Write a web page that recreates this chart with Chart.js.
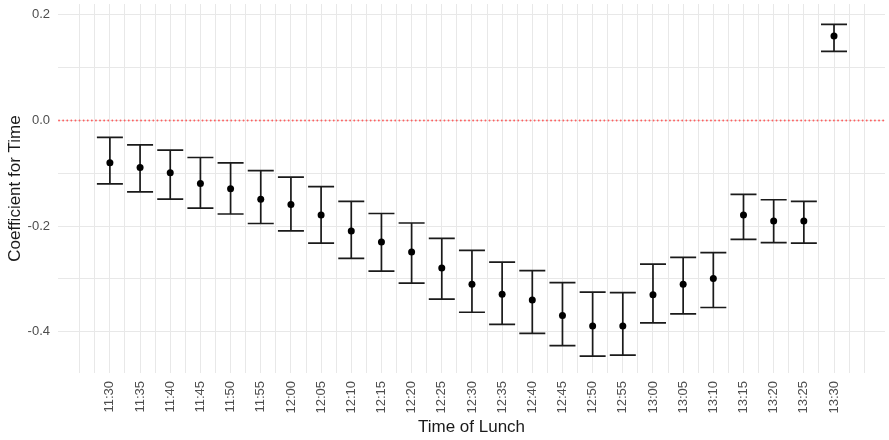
<!DOCTYPE html>
<html>
<head>
<meta charset="utf-8">
<script src="https://cdn.jsdelivr.net/npm/chart.js@4.4.0/dist/chart.umd.min.js"></script>
<style>
  body { margin: 0; background: #fff; }
  #wrap { width: 889px; height: 440px; }
</style>
</head>
<body>
<div id="wrap"><canvas id="c"></canvas></div>
<script>
// horarios do almoco
const times = ['11:30', '11:35', '11:40', '11:45', '11:50', '11:55', '12:00', '12:05', '12:10',
  '12:15', '12:20', '12:25', '12:30', '12:35', '12:40', '12:45', '12:50', '12:55',
  '13:00', '13:05', '13:10', '13:15', '13:20', '13:25', '13:30'];
const estimate = [-0.080, -0.089, -0.099, -0.119, -0.129, -0.149, -0.159, -0.179, -0.209,
  -0.230, -0.249, -0.279, -0.310, -0.329, -0.340, -0.369, -0.389, -0.389,
  -0.330, -0.310, -0.299, -0.179, -0.190, -0.190, 0.160];
const upper = [-0.032, -0.046, -0.056, -0.070, -0.080, -0.095, -0.107, -0.125, -0.153,
  -0.176, -0.194, -0.223, -0.246, -0.268, -0.284, -0.307, -0.325, -0.326,
  -0.272, -0.259, -0.250, -0.140, -0.150, -0.153, 0.182];
const lower = [-0.120, -0.135, -0.149, -0.166, -0.177, -0.195, -0.209, -0.232, -0.261,
  -0.285, -0.308, -0.338, -0.363, -0.386, -0.403, -0.426, -0.446, -0.444,
  -0.383, -0.366, -0.354, -0.225, -0.231, -0.232, 0.131];
const yTicks = [-0.4, -0.3, -0.2, -0.1, 0.0, 0.1, 0.2];
const refLine = 0;

const FONT = "'Liberation Sans', Arial, sans-serif";

// barras de erro e linha de referencia
const errorBars = {
  id: 'errorBars',
  beforeDatasetsDraw(chart) {
    const ctx = chart.ctx;
    const x = chart.scales.x, y = chart.scales.y;
    const area = chart.chartArea;
    ctx.save();
    ctx.strokeStyle = 'rgba(255,80,80,0.9)';
    ctx.lineWidth = 1.8;
    ctx.lineCap = 'round';
    ctx.setLineDash([0.1, 4]);
    const y0 = y.getPixelForValue(refLine);
    ctx.beginPath();
    ctx.moveTo(area.left + 1, y0);
    ctx.lineTo(area.right, y0);
    ctx.stroke();
    ctx.setLineDash([]);
    ctx.lineCap = 'butt';

    ctx.strokeStyle = '#1a1a1a';
    ctx.lineWidth = 1.7;
    const cap = 13;
    for (let i = 0; i < times.length; i++) {
      const px = x.getPixelForValue(i);
      const top = y.getPixelForValue(upper[i]);
      const bot = y.getPixelForValue(lower[i]);
      ctx.beginPath();
      ctx.moveTo(px, top); ctx.lineTo(px, bot);
      ctx.moveTo(px - cap, top); ctx.lineTo(px + cap, top);
      ctx.moveTo(px - cap, bot); ctx.lineTo(px + cap, bot);
      ctx.stroke();
    }
    ctx.restore();
  }
};

// sem folga extra para os rotulos nas bordas
function semFolga(scale) {
  scale.paddingTop = 0;
  scale.paddingBottom = 0;
  scale.paddingLeft = 0;
  scale.paddingRight = 0;
}

const pontos = times.map((t, i) => ({x: i, y: estimate[i]}));

new Chart(document.getElementById('c'), {
  type: 'scatter',
  data: {
    datasets: [{
      label: 'Coefficient',
      data: pontos,
      pointRadius: 3.5,
      pointBackgroundColor: '#000',
      pointBorderWidth: 0
    }]
  },
  options: {
    animation: false,
    responsive: true,
    maintainAspectRatio: false,
    layout: { padding: { top: 0, right: 2, left: 0, bottom: 0 } },
    plugins: {
      legend: { display: false },
      tooltip: { enabled: false }
    },
    scales: {
      x: {
        type: 'linear',
        min: -1.72,
        max: 25.69,
        afterBuildTicks(scale) {
          const t = [];
          for (let v = -2; v <= 50; v++) t.push({value: v / 2});
          scale.ticks = t;
        },
        afterFit(scale) { scale.height = 67; semFolga(scale); },
        grid: { color: '#e8e8e8', lineWidth: 1, drawTicks: false },
        border: { display: false },
        ticks: {
          autoSkip: false,
          minRotation: 90,
          maxRotation: 90,
          padding: 8,
          color: '#4d4d4d',
          font: { family: FONT, size: 13 },
          callback(v) {
            return Number.isInteger(v) && v >= 0 && v < times.length ? times[v] : '';
          }
        },
        title: {
          display: true,
          text: 'Time of Lunch',
          color: '#1a1a1a',
          font: { family: FONT, size: 17 },
          padding: { top: 0, bottom: 2 }
        }
      },
      y: {
        min: -0.478,
        max: 0.2206,
        afterBuildTicks(scale) {
          scale.ticks = yTicks.map(v => ({value: v}));
        },
        afterFit(scale) { scale.width = 58; semFolga(scale); },
        grid: { color: '#e8e8e8', lineWidth: 1, drawTicks: false },
        border: { display: false },
        ticks: {
          padding: 8,
          color: '#4d4d4d',
          font: { family: FONT, size: 13 },
          callback(v) {
            const k = Math.round(v * 10);
            return k % 2 === 0 ? (k / 10).toFixed(1) : '';
          }
        },
        title: {
          display: true,
          text: 'Coefficient for Time',
          color: '#1a1a1a',
          font: { family: FONT, size: 17 },
          padding: { top: 5, bottom: 0 }
        }
      }
    }
  },
  plugins: [errorBars]
});
</script>
</body>
</html>
